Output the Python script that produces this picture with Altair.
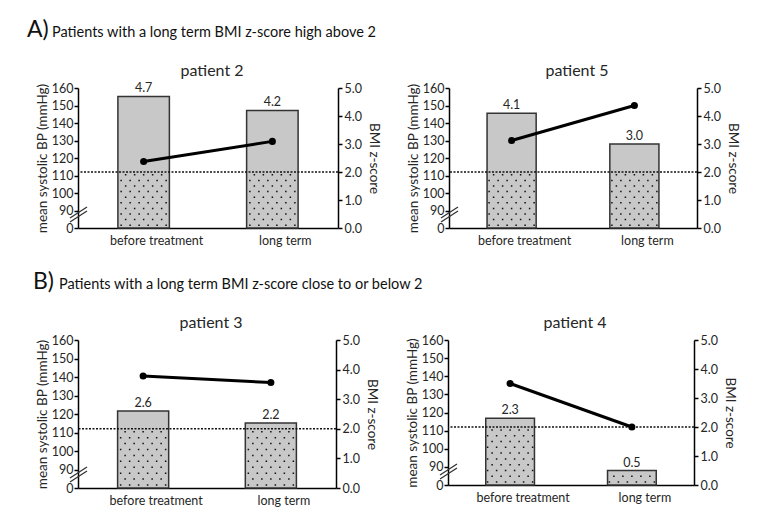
import altair as alt
import pandas as pd

# ---- data ----
patients = ["patient 2", "patient 5", "patient 3", "patient 4"]
timepoints = ["before treatment", "long term"]
bmi_before = [4.7, 4.1, 2.6, 2.3]
bmi_long = [4.2, 3.0, 2.2, 0.5]
bp_before = [118, 130, 140.5, 136]
bp_long = [129.5, 150, 137, 112]
threshold = [2.0]
bp_ticks = [80, 90, 100, 110, 120, 130, 140, 150, 160]
bmi_ticks = [0, 1, 2, 3, 4, 5]
section_letters = ["A)", "B)"]
section_texts = [
    "Patients with a long term BMI z-score high above 2",
    "Patients with a long term BMI z-score close to or below 2",
]

FONT = "Lato"
TXT = "#262626"


def dot_row_path(xs, half=0.03):
    # a row of tiny squares, in the unit symbol box [-1, 1]
    return " ".join(
        f"M{x - half:.3f},{-half:.3f}h{2 * half:.3f}v{2 * half:.3f}h{-2 * half:.3f}Z" for x in xs
    )


ROW_EVEN = dot_row_path([-0.9, -0.54, -0.18, 0.18, 0.54, 0.9])
ROW_ODD = dot_row_path([-0.72, -0.36, 0.0, 0.36, 0.72])

rows = []
for i, p in enumerate(patients):
    rows.append({"patient": p, "time": timepoints[0], "bmi": bmi_before[i], "bp": bp_before[i]})
    rows.append({"patient": p, "time": timepoints[1], "bmi": bmi_long[i], "bp": bp_long[i]})
df = pd.DataFrame(rows)

# dotted texture rows inside the part of each bar below the threshold
dots = []
for r in rows:
    top = min(r["bmi"], threshold[0])
    k = 0
    while 0.1 + 0.2 * k < top - 0.04:
        dots.append({"patient": r["patient"], "time": r["time"], "bmi": 0.1 + 0.2 * k, "odd": k % 2})
        k += 1
dots_df = pd.DataFrame(dots)


def panel(idx, w, h, head):
    p = patients[idx]
    d = df[df.patient == p]
    dd = dots_df[dots_df.patient == p]
    x = alt.X(
        "time:N", sort=timepoints, title=None,
        scale=alt.Scale(domain=timepoints, paddingInner=0.6, paddingOuter=0.31),
        axis=alt.Axis(labelAngle=0, ticks=False, labelPadding=6, labelOffset=13, labelFontSize=12.5),
    )
    y_bmi = alt.Y(
        "bmi:Q",
        scale=alt.Scale(domain=[0, 5], nice=False, zero=True),
        axis=alt.Axis(orient="right", values=bmi_ticks, format=".1f", title="BMI z-score",
                      grid=False, labelPadding=2, titlePadding=5),
    )
    y_bp = alt.Y(
        "bp:Q",
        scale=alt.Scale(domain=[80, 160], nice=False, zero=False),
        axis=alt.Axis(orient="left", values=bp_ticks,
                      labelExpr="datum.value == 80 ? '0' : datum.label",
                      title="mean systolic BP (mmHg)", grid=False, labelPadding=1, titlePadding=2),
    )
    bars = alt.Chart(d).mark_bar(fill="#c8c8c8", stroke="#333333", strokeWidth=1.5).encode(x=x, y=y_bmi)
    dots_even = alt.Chart(dd[dd.odd == 0]).mark_point(
        shape=ROW_EVEN, size=2500, filled=True, color="#111111", opacity=1, strokeWidth=0
    ).encode(x=x, y=y_bmi)
    dots_odd = alt.Chart(dd[dd.odd == 1]).mark_point(
        shape=ROW_ODD, size=2500, filled=True, color="#111111", opacity=1, strokeWidth=0
    ).encode(x=x, y=y_bmi)
    rule = alt.Chart(pd.DataFrame({"bmi": threshold})).mark_rule(
        color="#111111", strokeWidth=1.5, strokeDash=[2, 1.5]
    ).encode(y=y_bmi)
    labels = alt.Chart(d).mark_text(
        baseline="bottom", dy=-1, fontSize=12.5, color=TXT, font=FONT
    ).encode(x=x, y=y_bmi, text=alt.Text("bmi:Q", format=".1f"))
    bmi_layer = alt.layer(bars, dots_even, dots_odd, rule, labels)

    line = alt.Chart(d).mark_line(color="black", strokeWidth=3).encode(x=x, y=y_bp)
    pts = alt.Chart(d).mark_circle(size=50, color="black", opacity=1).encode(x=x, y=y_bp)
    # axis break: two short parallel slanted strokes across the left axis
    brk1 = alt.Chart(pd.DataFrame({"k": [0]})).mark_rule(color="#333333", strokeWidth=1.3).encode(
        x=alt.value(-8), y=alt.value(h - 6), x2=alt.value(9), y2=alt.value(h - 17))
    brk2 = alt.Chart(pd.DataFrame({"k": [0]})).mark_rule(color="#333333", strokeWidth=1.3).encode(
        x=alt.value(-8), y=alt.value(h - 10), x2=alt.value(9), y2=alt.value(h - 21))
    ttl = alt.Chart(pd.DataFrame({"p": [p]})).mark_text(
        align="center", baseline="alphabetic", fontSize=16, font=FONT, color=TXT
    ).encode(x=alt.value(w / 2 + 4), y=alt.value(-12), text="p:N")
    layers = [line, pts, brk1, brk2, ttl]
    if head is not None:
        i, lx, tx = head
        hd = pd.DataFrame({"letter": [section_letters[i]], "text": [section_texts[i]]})
        layers.append(alt.Chart(hd).mark_text(
            align="left", baseline="alphabetic", fontSize=23, font=FONT, color="#111111"
        ).encode(x=alt.value(lx), y=alt.value(-51), text="letter:N"))
        layers.append(alt.Chart(hd).mark_text(
            align="left", baseline="alphabetic", fontSize=14.5, font=FONT, color="#111111"
        ).encode(x=alt.value(tx), y=alt.value(-51), text="text:N"))
    bp_layer = alt.layer(*layers)

    return alt.layer(bmi_layer, bp_layer).resolve_scale(y="independent").properties(width=w, height=h)


rowA = alt.hconcat(
    panel(0, 260, 140, head=(0, -51, -26)),
    panel(1, 248, 140, head=None),
    spacing=111, bounds="flush",
)
rowB = alt.hconcat(
    panel(2, 258, 148, head=(1, -45, -19)),
    panel(3, 246, 145, head=None),
    spacing=112, bounds="flush",
)

chart = alt.vconcat(rowA, rowB, spacing=23).properties(
    padding={"left": 18, "top": 10, "right": 5, "bottom": 5}
).configure_view(
    stroke="transparent"
).configure_axis(
    labelFont=FONT, titleFont=FONT, labelColor=TXT, titleColor=TXT,
    labelFontSize=12.5, titleFontSize=13.5, titleFontWeight="normal",
    domainColor="black", domainWidth=1.5, tickColor="black", tickWidth=1.5, tickSize=4,
)

chart.save("out.html", embed_options={"renderer": "svg", "actions": False})
